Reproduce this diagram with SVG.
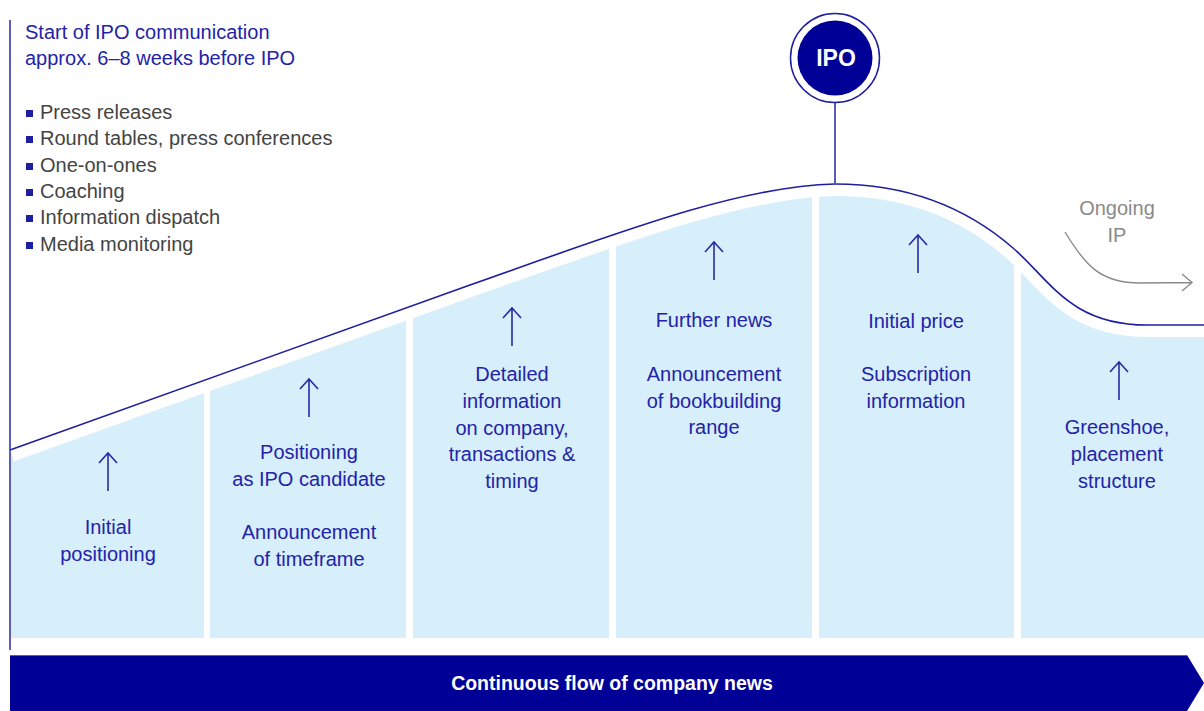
<svg xmlns="http://www.w3.org/2000/svg" width="1204" height="711" viewBox="0 0 1204 711">
<style>
.t{font-family:"Liberation Sans",Arial,sans-serif;font-size:20px;fill:#2323a8;text-anchor:middle}
.g{font-family:"Liberation Sans",Arial,sans-serif;font-size:20px;fill:#444}
.ti{font-family:"Liberation Sans",Arial,sans-serif;font-size:20px;fill:#2323a8}
.ar{fill:none;stroke:#2a2aa8;stroke-width:1.6}
</style>
<defs>
<clipPath id="cols">
<rect x="11" y="150" width="193" height="488"/>
<rect x="210" y="150" width="196" height="488"/>
<rect x="413" y="150" width="196" height="488"/>
<rect x="616" y="150" width="196" height="488"/>
<rect x="819" y="150" width="195" height="488"/>
<rect x="1021" y="150" width="183" height="488"/>
</clipPath>
</defs>
<rect width="1204" height="711" fill="#fff"/>
<g id="area">
<path clip-path="url(#cols)" fill="#d7eefb" d="M10,450 L470,285 C620,232 740,186 835,184 C920,184 975,215 1013,248 C1050,280 1070,325 1147,325 L1204,325 L1204,640 L10,640 Z"/>
<path fill="none" stroke="#fff" stroke-width="24" d="M10,450 L470,285 C620,232 740,186 835,184 C920,184 975,215 1013,248 C1050,280 1070,325 1147,325 L1210,325"/>
</g>
<g id="connectors">
<path fill="none" stroke="#1e1ea0" stroke-width="1.6" d="M10,450 L470,285 C620,232 740,186 835,184 C920,184 975,215 1013,248 C1050,280 1070,325 1147,325 L1204,325"/>
<line x1="10" y1="20" x2="10" y2="650" stroke="#3535b0" stroke-width="1.6"/>
<line x1="835" y1="103" x2="835" y2="184" stroke="#5a5ab8" stroke-width="2"/>
<path fill="none" stroke="#8a8a8a" stroke-width="1.4" d="M1065,232 C1085,265 1100,283 1140,283 L1192,282.5 M1182,274 L1192,282.5 L1182,291"/>
<path class="ar" d="M108,491 V453 M99,463 L108,453 L117,463"/>
<path class="ar" d="M309,417 V379 M300,389 L309,379 L318,389"/>
<path class="ar" d="M512,346 V308 M503,318 L512,308 L521,318"/>
<path class="ar" d="M714,280 V242 M705,252 L714,242 L723,252"/>
<path class="ar" d="M918,273 V235 M909,245 L918,235 L927,245"/>
<path class="ar" d="M1119,400 V362 M1110,372 L1119,362 L1128,372"/>
</g>
<g id="intro">
<text class="ti" x="25" y="39">Start of IPO communication</text>
<text class="ti" x="25" y="65">approx. 6–8 weeks before IPO</text>
<g fill="#1e1ea0">
<rect x="26" y="110" width="7" height="7"/>
<rect x="26" y="136" width="7" height="7"/>
<rect x="26" y="163" width="7" height="7"/>
<rect x="26" y="189" width="7" height="7"/>
<rect x="26" y="215" width="7" height="7"/>
<rect x="26" y="242" width="7" height="7"/>
</g>
<text class="g" x="40" y="119">Press releases</text>
<text class="g" x="40" y="145">Round tables, press conferences</text>
<text class="g" x="40" y="172">One-on-ones</text>
<text class="g" x="40" y="198">Coaching</text>
<text class="g" x="40" y="224">Information dispatch</text>
<text class="g" x="40" y="251">Media monitoring</text>
</g>
<g id="ipo">
<circle cx="835" cy="58" r="44.5" fill="#fff" stroke="#1e1ea0" stroke-width="1.5"/>
<circle cx="835" cy="58" r="37.5" fill="#000096"/>
<text x="836" y="66" text-anchor="middle" font-family="Liberation Sans,Arial,sans-serif" font-weight="bold" font-size="23" fill="#fff">IPO</text>
</g>
<g id="ongoing">
<text x="1117" y="215" text-anchor="middle" font-family="Liberation Sans,Arial,sans-serif" font-size="20" fill="#8a8a8a">Ongoing</text>
<text x="1117" y="242" text-anchor="middle" font-family="Liberation Sans,Arial,sans-serif" font-size="20" fill="#8a8a8a">IP</text>
</g>
<g id="col1"><text class="t" x="108" y="534">Initial</text><text class="t" x="108" y="561">positioning</text></g>
<g id="col2"><text class="t" x="309" y="459">Positioning</text><text class="t" x="309" y="486">as IPO candidate</text><text class="t" x="309" y="539">Announcement</text><text class="t" x="309" y="566">of timeframe</text></g>
<g id="col3"><text class="t" x="512" y="381">Detailed</text><text class="t" x="512" y="408">information</text><text class="t" x="512" y="435">on company,</text><text class="t" x="512" y="461">transactions &amp;</text><text class="t" x="512" y="488">timing</text></g>
<g id="col4"><text class="t" x="714" y="327">Further news</text><text class="t" x="714" y="381">Announcement</text><text class="t" x="714" y="408">of bookbuilding</text><text class="t" x="714" y="434">range</text></g>
<g id="col5"><text class="t" x="916" y="328">Initial price</text><text class="t" x="916" y="381">Subscription</text><text class="t" x="916" y="408">information</text></g>
<g id="col6"><text class="t" x="1117" y="434">Greenshoe,</text><text class="t" x="1117" y="461">placement</text><text class="t" x="1117" y="488">structure</text></g>
<g id="banner">
<polygon points="10,655 1187,655 1204,683 1187,711 10,711" fill="#000096"/>
<line x1="10" y1="655.5" x2="1187" y2="655.5" stroke="#5c5cc0" stroke-width="1"/>
<text x="612" y="690" text-anchor="middle" font-family="Liberation Sans,Arial,sans-serif" font-weight="bold" font-size="19.5" fill="#fff">Continuous flow of company news</text>
</g>
</svg>
